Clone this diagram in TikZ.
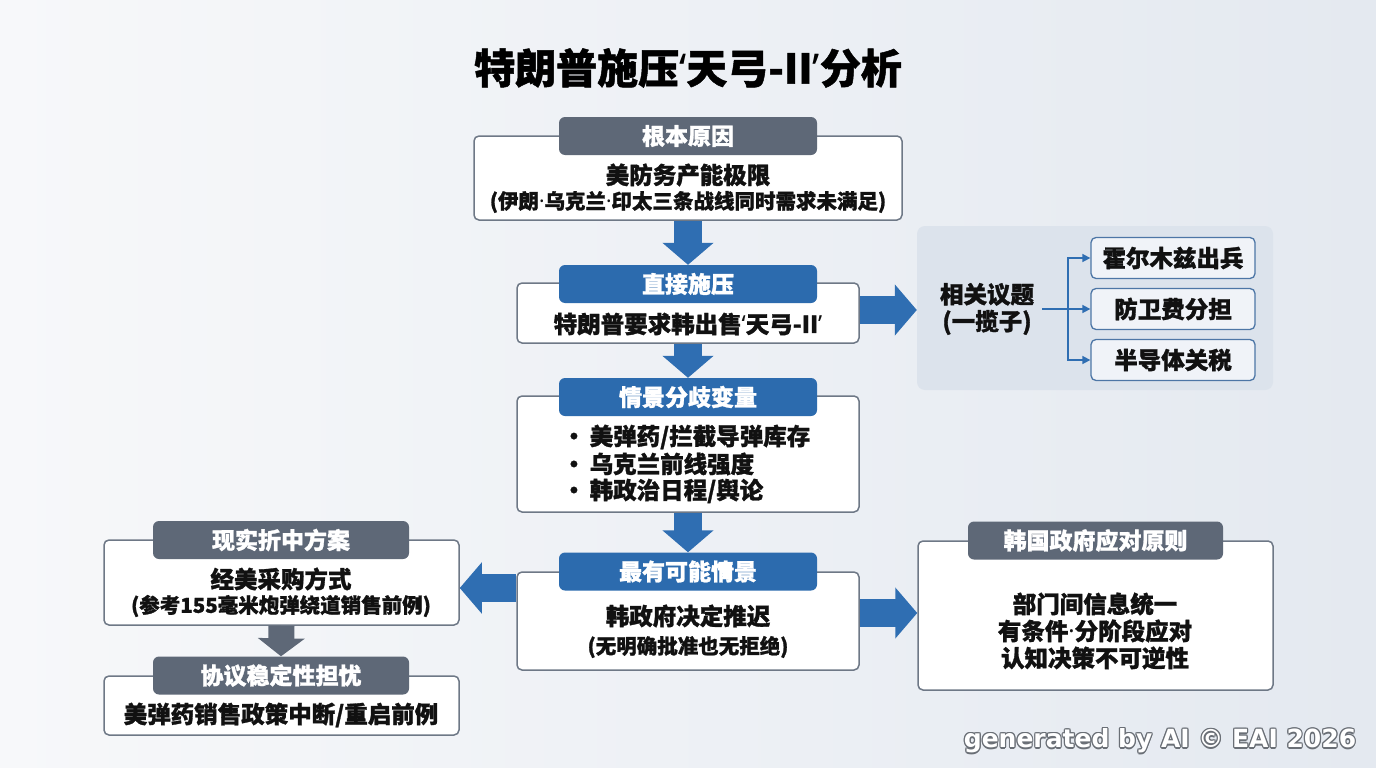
\documentclass[tikz,border=0pt]{standalone}
\usepackage{fontspec}
\setmainfont{Noto Sans CJK SC}[BoldFeatures={FakeBold=1.2}]
\newfontfamily\wmfont{DejaVu Sans}
\newfontfamily\latf{Noto Sans}
\newcommand\qL{{\latf ‘}}
\newcommand\qR{{\latf ’}}
\newcommand\mdot{{\latf ·}}
\usetikzlibrary{arrows.meta}
\definecolor{hblue}{HTML}{2C6BAE}
\definecolor{hgray}{HTML}{5E6877}
\definecolor{bord}{HTML}{6E7886}
\definecolor{ablue}{HTML}{2F6EB2}
\definecolor{panel}{HTML}{DCE3EC}
\definecolor{sbord}{HTML}{4D76A6}
\definecolor{sfill}{HTML}{F0F3F8}
\definecolor{txt}{HTML}{111111}
\definecolor{bgA}{HTML}{F7F8FA}
\definecolor{bgB}{HTML}{E4E9F0}
\definecolor{wmgray}{HTML}{6A6F76}
\begin{document}
\begin{tikzpicture}[x=1pt,y=-1pt,
 outer/.style={draw=bord, line width=1.5pt, fill=white, rounded corners=5pt, inner sep=0},
 hdr/.style={rounded corners=6pt, text=white, font=\bfseries\fontsize{23}{27}\selectfont, inner sep=0, minimum width=258pt, minimum height=38pt},
 bhdr/.style={hdr, fill=hblue},
 ghdr/.style={hdr, fill=hgray},
 body/.style={font=\bfseries\fontsize{23.5}{27}\selectfont, text=txt, inner sep=0},
 subt/.style={font=\bfseries\fontsize{20.5}{24}\selectfont, text=txt, inner sep=0},
 sbox/.style={body, draw=sbord, fill=sfill, line width=1.3pt, rounded corners=5pt, minimum width=164pt, minimum height=41pt},
 bigarrow/.style={line width=28pt, draw=ablue, -{Triangle[length=22pt,width=50pt]}},
 conn/.style={draw=ablue, line width=1.6pt},
 wm/.style={font=\wmfont\bfseries\fontsize{25}{28}\selectfont, inner sep=0},
 ]
\useasboundingbox (0,0) rectangle (1376,768);
\shade[left color=bgA, right color=bgB] (0,0) rectangle (1376,768);

% title
\node[font=\bfseries\fontsize{41}{48}\selectfont, text=black] (title) at (688,68) {特朗普施压\qL 天弓-II\qR 分析};

% box 1
\node[outer, minimum width=428pt, minimum height=84pt] (b1) at (688,178) {};
\node[ghdr] (h1) at (688,136) {根本原因};
\node[body] (t1a) at (688,175) {美防务产能极限};
\node[subt] (t1b) at (688,202) {(伊朗\mdot 乌克兰\mdot 印太三条战线同时需求未满足)};

% box 2
\node[outer, minimum width=342pt, minimum height=60pt] (b2) at (688,313) {};
\node[bhdr] (h2) at (688,284) {直接施压};
\node[body] (t2) at (688,324) {特朗普要求韩出售\qL 天弓-II\qR};

% right panel
\node[fill=panel, rounded corners=8pt, minimum width=356pt, minimum height=164pt, inner sep=0] (rp) at (1095,308) {};
\node[body, align=center] (rl) at (987,309) {相关议题\\(一揽子)};
\node[sbox] (s1) at (1173,258) {霍尔木兹出兵};
\node[sbox] (s2) at (1173,309) {防卫费分担};
\node[sbox] (s3) at (1173,360) {半导体关税};
\coordinate (j) at (1068,309);
\draw[conn] ([xshift=8pt]rl.east) -- (j);
\draw[conn,-{Triangle[length=8pt,width=8pt]}] (j) |- (s1.west);
\draw[conn,-{Triangle[length=8pt,width=8pt]}] (j) -- (s2.west);
\draw[conn,-{Triangle[length=8pt,width=8pt]}] (j) |- (s3.west);

% box 3
\node[outer, minimum width=342pt, minimum height=116pt] (b3) at (688,454) {};
\node[bhdr] (h3) at (688,397) {情景分歧变量};
\node[body, anchor=west] (t3a) at (562,437) {•\hspace{4pt}美弹药/拦截导弹库存};
\node[body, anchor=west] (t3b) at (562,464) {•\hspace{4pt}乌克兰前线强度};
\node[body, anchor=west] (t3c) at (562,491) {•\hspace{4pt}韩政治日程/舆论};

% box 4
\node[outer, minimum width=342pt, minimum height=98pt] (b4) at (688,621) {};
\node[bhdr] (h4) at (688,571.5) {最有可能情景};
\node[body] (t4a) at (688,616) {韩政府决定推迟};
\node[subt] (t4b) at (688,647) {(无明确批准也无拒绝)};

% left box A
\node[outer, minimum width=355pt, minimum height=85pt] (bA) at (281.5,582.5) {};
\node[ghdr, minimum width=256pt] (hA) at (281,540) {现实折中方案};
\node[body] (tAa) at (281,579) {经美采购方式};
\node[subt] (tAb) at (281,606) {(参考155毫米炮弹绕道销售前例)};

% left box B
\node[outer, minimum width=355pt, minimum height=59pt] (bB) at (281.5,705.5) {};
\node[ghdr, minimum width=256pt] (hB) at (281,675.5) {协议稳定性担忧};
\node[body] (tB) at (281,715) {美弹药销售政策中断/重启前例};

% right box C
\node[outer, minimum width=355pt, minimum height=149pt] (bC) at (1095.5,615.5) {};
\node[ghdr, minimum width=255pt] (hC) at (1095.5,540.5) {韩国政府应对原则};
\node[body, align=center] (tC) at (1095,631) {部门间信息统一\\有条件\mdot 分阶段应对\\认知决策不可逆性};

% big arrows
\draw[bigarrow] (b1.south) -- (h2.north);
\draw[bigarrow] (b2.south) -- (h3.north);
\draw[bigarrow] (b3.south) -- (h4.north);
\draw[bigarrow] ([yshift=3pt]b2.east) -- ([yshift=3pt]b2.east -| rp.west);
\draw[bigarrow] ([yshift=33pt]b4.west) -- ([yshift=33pt]b4.west -| bA.east);
\draw[bigarrow] ([yshift=8pt]b4.east) -- ([yshift=8pt]b4.east -| bC.west);
\draw[bigarrow, draw=hgray, line width=26pt, -{Triangle[length=18pt,width=46pt]}] (bA.south) -- (hB.north);

% watermark
\foreach \dx/\dy in {-1.2/0,1.2/0,0/-1.2,0/1.2,-0.9/-0.9,0.9/0.9,-0.9/0.9,0.9/-0.9}{
  \node[wm, text=wmgray] at (1160+\dx,741+\dy) {generated by AI © EAI 2026};
}
\node[wm, text=white] (wmk) at (1160,741) {generated by AI © EAI 2026};
\end{tikzpicture}
\end{document}
